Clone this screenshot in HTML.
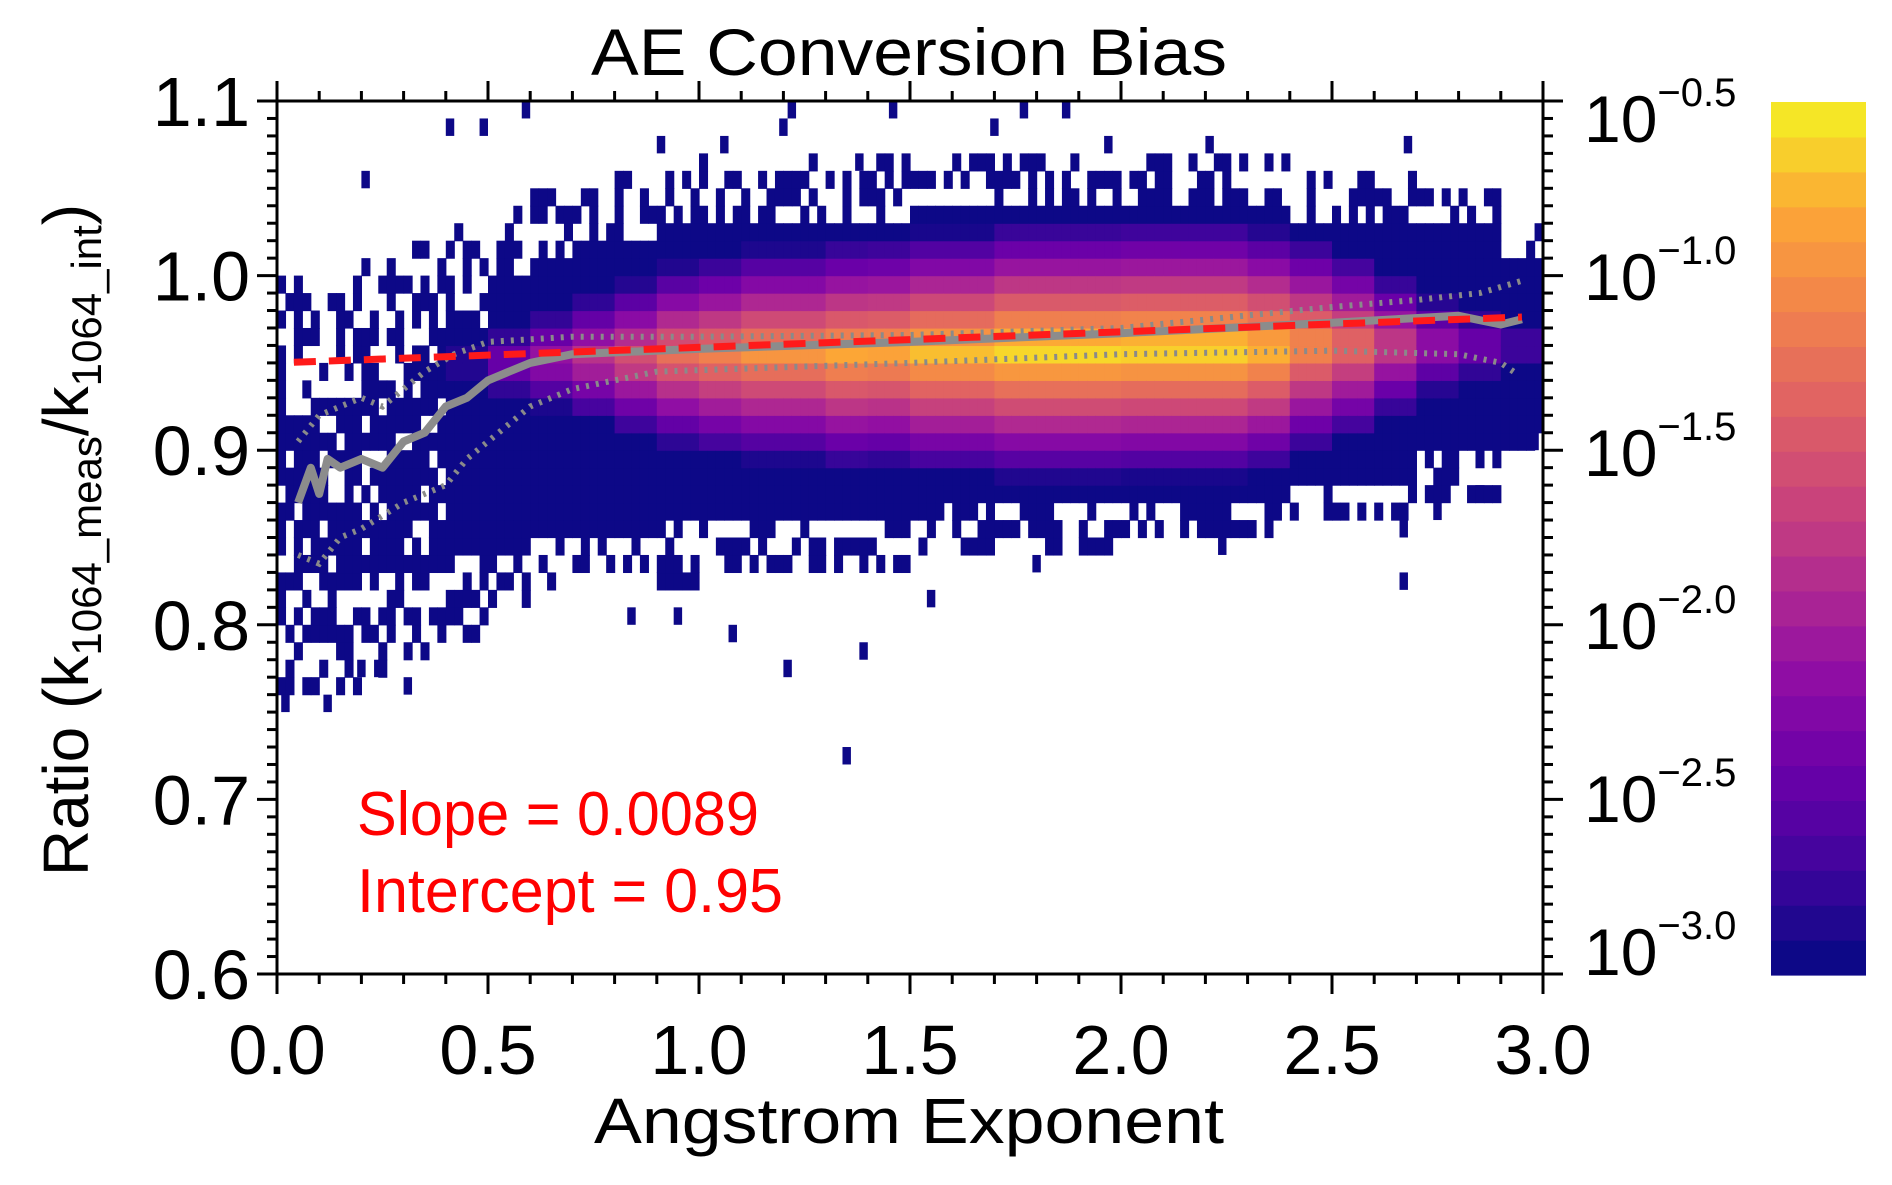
<!DOCTYPE html>
<html><head><meta charset="utf-8"><title>AE Conversion Bias</title>
<style>html,body{margin:0;padding:0;background:#fff;}svg{display:block;}text{font-family:"Liberation Sans",Arial,sans-serif;}</style>
</head><body>
<svg id="chart" xmlns="http://www.w3.org/2000/svg" width="1892" height="1185" viewBox="0 0 1892 1185">
<rect x="0" y="0" width="1892" height="1185" fill="#fff"/>
<g id="heat"></g>
<g id="lines"></g>
<g id="axes"></g>
<g id="cbar"></g>
<text x="909" y="75" font-size="66" text-anchor="middle" textLength="636" lengthAdjust="spacingAndGlyphs">AE Conversion Bias</text>
<text x="909" y="1143" font-size="64" text-anchor="middle" textLength="630" lengthAdjust="spacingAndGlyphs">Angstrom Exponent</text>
<text transform="translate(88,540) rotate(-90)" font-size="64" text-anchor="middle">Ratio (k<tspan font-size="42" dy="13">1064_meas</tspan><tspan dy="-13">/k</tspan><tspan font-size="42" dy="13">1064_int</tspan><tspan dy="-13">)</tspan></text>
<text x="357" y="835" font-size="62" fill="#ff0000" textLength="402" lengthAdjust="spacingAndGlyphs">Slope = 0.0089</text>
<text x="357" y="912" font-size="62" fill="#ff0000" textLength="426" lengthAdjust="spacingAndGlyphs">Intercept = 0.95</text>
</svg>
<script>
// ---- data ----
const aeBinStart = [0.0,0.1,0.2,0.3,0.4,0.5,0.6,0.7,0.8,0.9,1.0,1.1,1.2,1.3,1.4,1.5,1.6,1.7,1.8,1.9,2.0,2.1,2.2,2.3,2.4,2.5,2.6,2.7,2.8,2.9];
const peakLevel  = [0,0,0,0,1,2.5,3.5,4.5,5.5,6.5,7,7.5,7.5,8,8,8.5,8.5,9,9,9,9,9,9,8.5,7.5,6.5,5,3.5,2.5,1.5];
const coreCenter = [0.94,0.94,0.94,0.945,0.95,0.95,0.952,0.953,0.953,0.954,0.954,0.955,0.955,0.955,0.956,0.956,0.956,0.957,0.957,0.957,0.958,0.958,0.958,0.958,0.96,0.96,0.96,0.96,0.96,0.96];
const solidLow   = [0.82,0.82,0.83,0.83,0.84,0.84,0.85,0.85,0.85,0.86,0.86,0.86,0.86,0.86,0.86,0.87,0.87,0.87,0.87,0.87,0.87,0.87,0.87,0.87,0.88,0.88,0.88,0.90,0.90,0.91];
const solidHigh  = [0.92,0.93,0.94,0.95,0.97,1.00,1.01,1.02,1.02,1.03,1.03,1.03,1.03,1.03,1.03,1.04,1.04,1.04,1.04,1.04,1.04,1.04,1.04,1.04,1.03,1.03,1.03,1.03,1.03,1.01];
const speckLow   = [0.76,0.76,0.77,0.78,0.79,0.81,0.82,0.83,0.83,0.82,0.83,0.83,0.83,0.83,0.83,0.84,0.84,0.84,0.84,0.84,0.85,0.85,0.85,0.85,0.86,0.86,0.86,0.87,0.87,0.90];
const speckHigh  = [1.00,1.00,1.01,1.02,1.03,1.04,1.05,1.05,1.06,1.06,1.07,1.07,1.07,1.07,1.07,1.07,1.07,1.07,1.07,1.07,1.07,1.07,1.07,1.07,1.06,1.06,1.06,1.05,1.05,1.03];
const outlierAE    = [0.58,0.40,0.48,1.21,1.45,1.76,1.86,1.96,0.90,1.05,2.20,2.67,0.20,1.19,1.37,1.69,0.01,0.11,0.19,0.23,0.30,1.20,1.38,1.34,1.07,2.66,2.74,2.66,2.84,2.97,1.54,1.79,2.23,0.94,0.83];
const outlierRatio = [1.09,1.08,1.08,1.09,1.09,1.09,1.09,1.07,1.07,1.07,1.07,1.07,1.05,1.08,1.06,1.08,0.75,0.75,0.77,0.77,0.76,0.77,0.78,0.72,0.79,0.82,0.86,0.85,0.87,0.90,0.81,0.83,0.84,0.80,0.80];
const medianAE    = [0.05,0.08,0.10,0.12,0.15,0.20,0.25,0.30,0.35,0.40,0.45,0.50,0.55,0.60,0.70,1.00,1.50,2.00,2.50,2.80,2.90,2.95];
const medianRatio = [0.870,0.890,0.875,0.895,0.890,0.895,0.890,0.905,0.910,0.925,0.930,0.940,0.945,0.950,0.955,0.958,0.962,0.967,0.973,0.977,0.972,0.975];
const upperAE    = [0.05,0.10,0.15,0.20,0.25,0.30,0.35,0.42,0.50,0.70,1.00,1.50,2.00,2.50,2.70,2.85,2.95];
const upperRatio = [0.905,0.920,0.925,0.930,0.925,0.935,0.945,0.955,0.962,0.965,0.965,0.966,0.970,0.982,0.986,0.990,0.997];
const lowerAE    = [0.05,0.10,0.15,0.20,0.30,0.40,0.45,0.50,0.60,0.70,0.90,1.50,2.00,2.50,2.80,2.90,2.93];
const lowerRatio = [0.840,0.835,0.850,0.855,0.870,0.880,0.895,0.905,0.925,0.935,0.945,0.950,0.955,0.957,0.955,0.950,0.945];
const fitSlope = [0.0089];
const fitIntercept = [0.95];
const fitRange = [0.04, 2.95];
const xTicks = [0.0,0.5,1.0,1.5,2.0,2.5,3.0];
const xTickLabels = ["0.0","0.5","1.0","1.5","2.0","2.5","3.0"];
const yTicks = [0.6,0.7,0.8,0.9,1.0,1.1];
const yTickLabels = ["0.6","0.7","0.8","0.9","1.0","1.1"];
const cbarExp = ["\u22120.5","\u22121.0","\u22121.5","\u22122.0","\u22122.5","\u22123.0"];

// ---- axes functions ----
const X0=277, X1=1543, YT=101, YB=974;
const xMin=0, xMax=3, yMin=0.6, yMax=1.1;
const sx = v => X0 + (v-xMin)/(xMax-xMin)*(X1-X0);
const sy = v => YB - (v-yMin)/(yMax-yMin)*(YB-YT);
const NS='http://www.w3.org/2000/svg';
function mk(tag, attrs, parent){const e=document.createElementNS(NS,tag);for(const k in attrs)e.setAttribute(k,attrs[k]);parent.appendChild(e);return e;}
function hash(a,b,c){let h=(a*374761393 + b*668265263 + c*2246822519)>>>0;h=((h^(h>>>13))*1274126177)>>>0;return (h^(h>>>16))>>>0;}

const stops=[[13,8,135],[65,4,157],[106,0,168],[143,13,164],[177,42,144],[204,71,120],[225,100,98],[242,132,75],[252,166,54],[245,230,38]];
function col(l){l=Math.max(0,Math.min(9,l));const i=Math.floor(l),f=l-i;const a=stops[i],b=stops[Math.min(9,i+1)];return 'rgb('+a.map((v,k)=>Math.round(v+(b[k]-v)*f)).join(',')+')';}

// ---- heatmap ----
const heat=document.getElementById('heat');
const dx=0.02, dy=0.01, falloff=1.2;
const cw=sx(dx)-sx(0), ch=sy(0)-sy(dy);
for(let b=0;b<aeBinStart.length;b++){
  for(let s=0;s<5;s++){
    const x=aeBinStart[b]+s*dx;
    for(let j=0;j<50;j++){
      const r=yMin+j*dy, rc=r+dy/2;
      const h=hash(b*5+s,j,7)%100;
      let fill=false, lvl=0;
      if(rc>=solidLow[b] && rc<=solidHigh[b]){ fill = !(b<4 && h<22); }
      else if(rc>=speckLow[b] && rc<=speckHigh[b]){ fill = h<45; }
      if(!fill) continue;
      if(peakLevel[b]>0){ lvl=Math.max(0,peakLevel[b]-falloff*Math.abs(rc-coreCenter[b])/dy); }
      const c=mk('rect',{x:sx(x).toFixed(2),y:sy(r+dy).toFixed(2),width:(cw+0.6).toFixed(2),height:(ch+0.6).toFixed(2),fill:col(lvl)},heat);
      
      
    }
  }
}
for(let i=0;i<outlierAE.length;i++){
  const c=mk('rect',{x:sx(outlierAE[i]).toFixed(2),y:sy(outlierRatio[i]+dy).toFixed(2),width:cw.toFixed(2),height:ch.toFixed(2),fill:col(0)},heat);
  
  
}

// ---- lines ----
const lines=document.getElementById('lines');
function pts(xs,ys){return xs.map((v,i)=>sx(v).toFixed(1)+','+sy(ys[i]).toFixed(1)).join(' ');}
const up=mk('polyline',{points:pts(upperAE,upperRatio),fill:'none',stroke:'#8a8a8a','stroke-width':6,'stroke-dasharray':'3 7'},lines);


const lo=mk('polyline',{points:pts(lowerAE,lowerRatio),fill:'none',stroke:'#8a8a8a','stroke-width':6,'stroke-dasharray':'3 7'},lines);


const md=mk('polyline',{points:pts(medianAE,medianRatio),fill:'none',stroke:'#8c8c8c','stroke-width':8,'stroke-linejoin':'round'},lines);


const fit=mk('line',{x1:sx(fitRange[0]),y1:sy(fitIntercept[0]+fitSlope[0]*fitRange[0]),x2:sx(fitRange[1]),y2:sy(fitIntercept[0]+fitSlope[0]*fitRange[1]),stroke:'#ff1a1a','stroke-width':7,'stroke-dasharray':'22 13'},lines);



// ---- axes ----
const ax=document.getElementById('axes');
const frame=mk('rect',{x:X0,y:YT,width:X1-X0,height:YB-YT,fill:'none',stroke:'#000','stroke-width':3},ax);


for(let k=0;k<=50;k++){
  const v=yMin+k*0.01, y=sy(v), major=(k%10===0), L=major?20:10;
  const t1=mk('line',{x1:X0,y1:y,x2:X0-L,y2:y,stroke:'#000','stroke-width':3},ax);
  
  
  const t2=mk('line',{x1:X1,y1:y,x2:X1+L,y2:y,stroke:'#000','stroke-width':3},ax);
  
  
}
for(let k=0;k<=30;k++){
  const v=k*0.1, x=sx(v), major=(k%5===0), L=major?20:10;
  const t1=mk('line',{x1:x,y1:YB,x2:x,y2:YB+L,stroke:'#000','stroke-width':3},ax);
  
  
  const t2=mk('line',{x1:x,y1:YT,x2:x,y2:YT-L,stroke:'#000','stroke-width':3},ax);
  
  
}
xTicks.forEach((v,i)=>{
  const t=mk('text',{x:sx(v),y:1074,'font-size':70,'text-anchor':'middle'},ax);
  t.textContent=xTickLabels[i];
  
  
});
yTicks.forEach((v,i)=>{
  const t=mk('text',{x:250,y:sy(v)+25,'font-size':70,'text-anchor':'end'},ax);
  t.textContent=yTickLabels[i];
  
  
});

// ---- colorbar ----
const cb=document.getElementById('cbar');
const CX0=1771, CX1=1866, CT=102, CB=975, NB=25;
for(let i=0;i<NB;i++){
  const h=(CB-CT)/NB;
  const r=mk('rect',{x:CX0,y:(CB-(i+1)*h).toFixed(2),width:CX1-CX0,height:(h+0.6).toFixed(2),fill:col(i/(NB-1)*9)},cb);
  
  
}
const cbBase=[142,300,476,649,822,975];
cbarExp.forEach((e,i)=>{
  const t=mk('text',{x:1584,y:cbBase[i],'font-size':66},cb);
  
  
  const a=document.createElementNS(NS,'tspan');a.textContent='10';t.appendChild(a);
  const b=document.createElementNS(NS,'tspan');b.setAttribute('font-size','40');b.setAttribute('dy','-36');b.textContent=e;t.appendChild(b);
});
</script>
</body></html>
